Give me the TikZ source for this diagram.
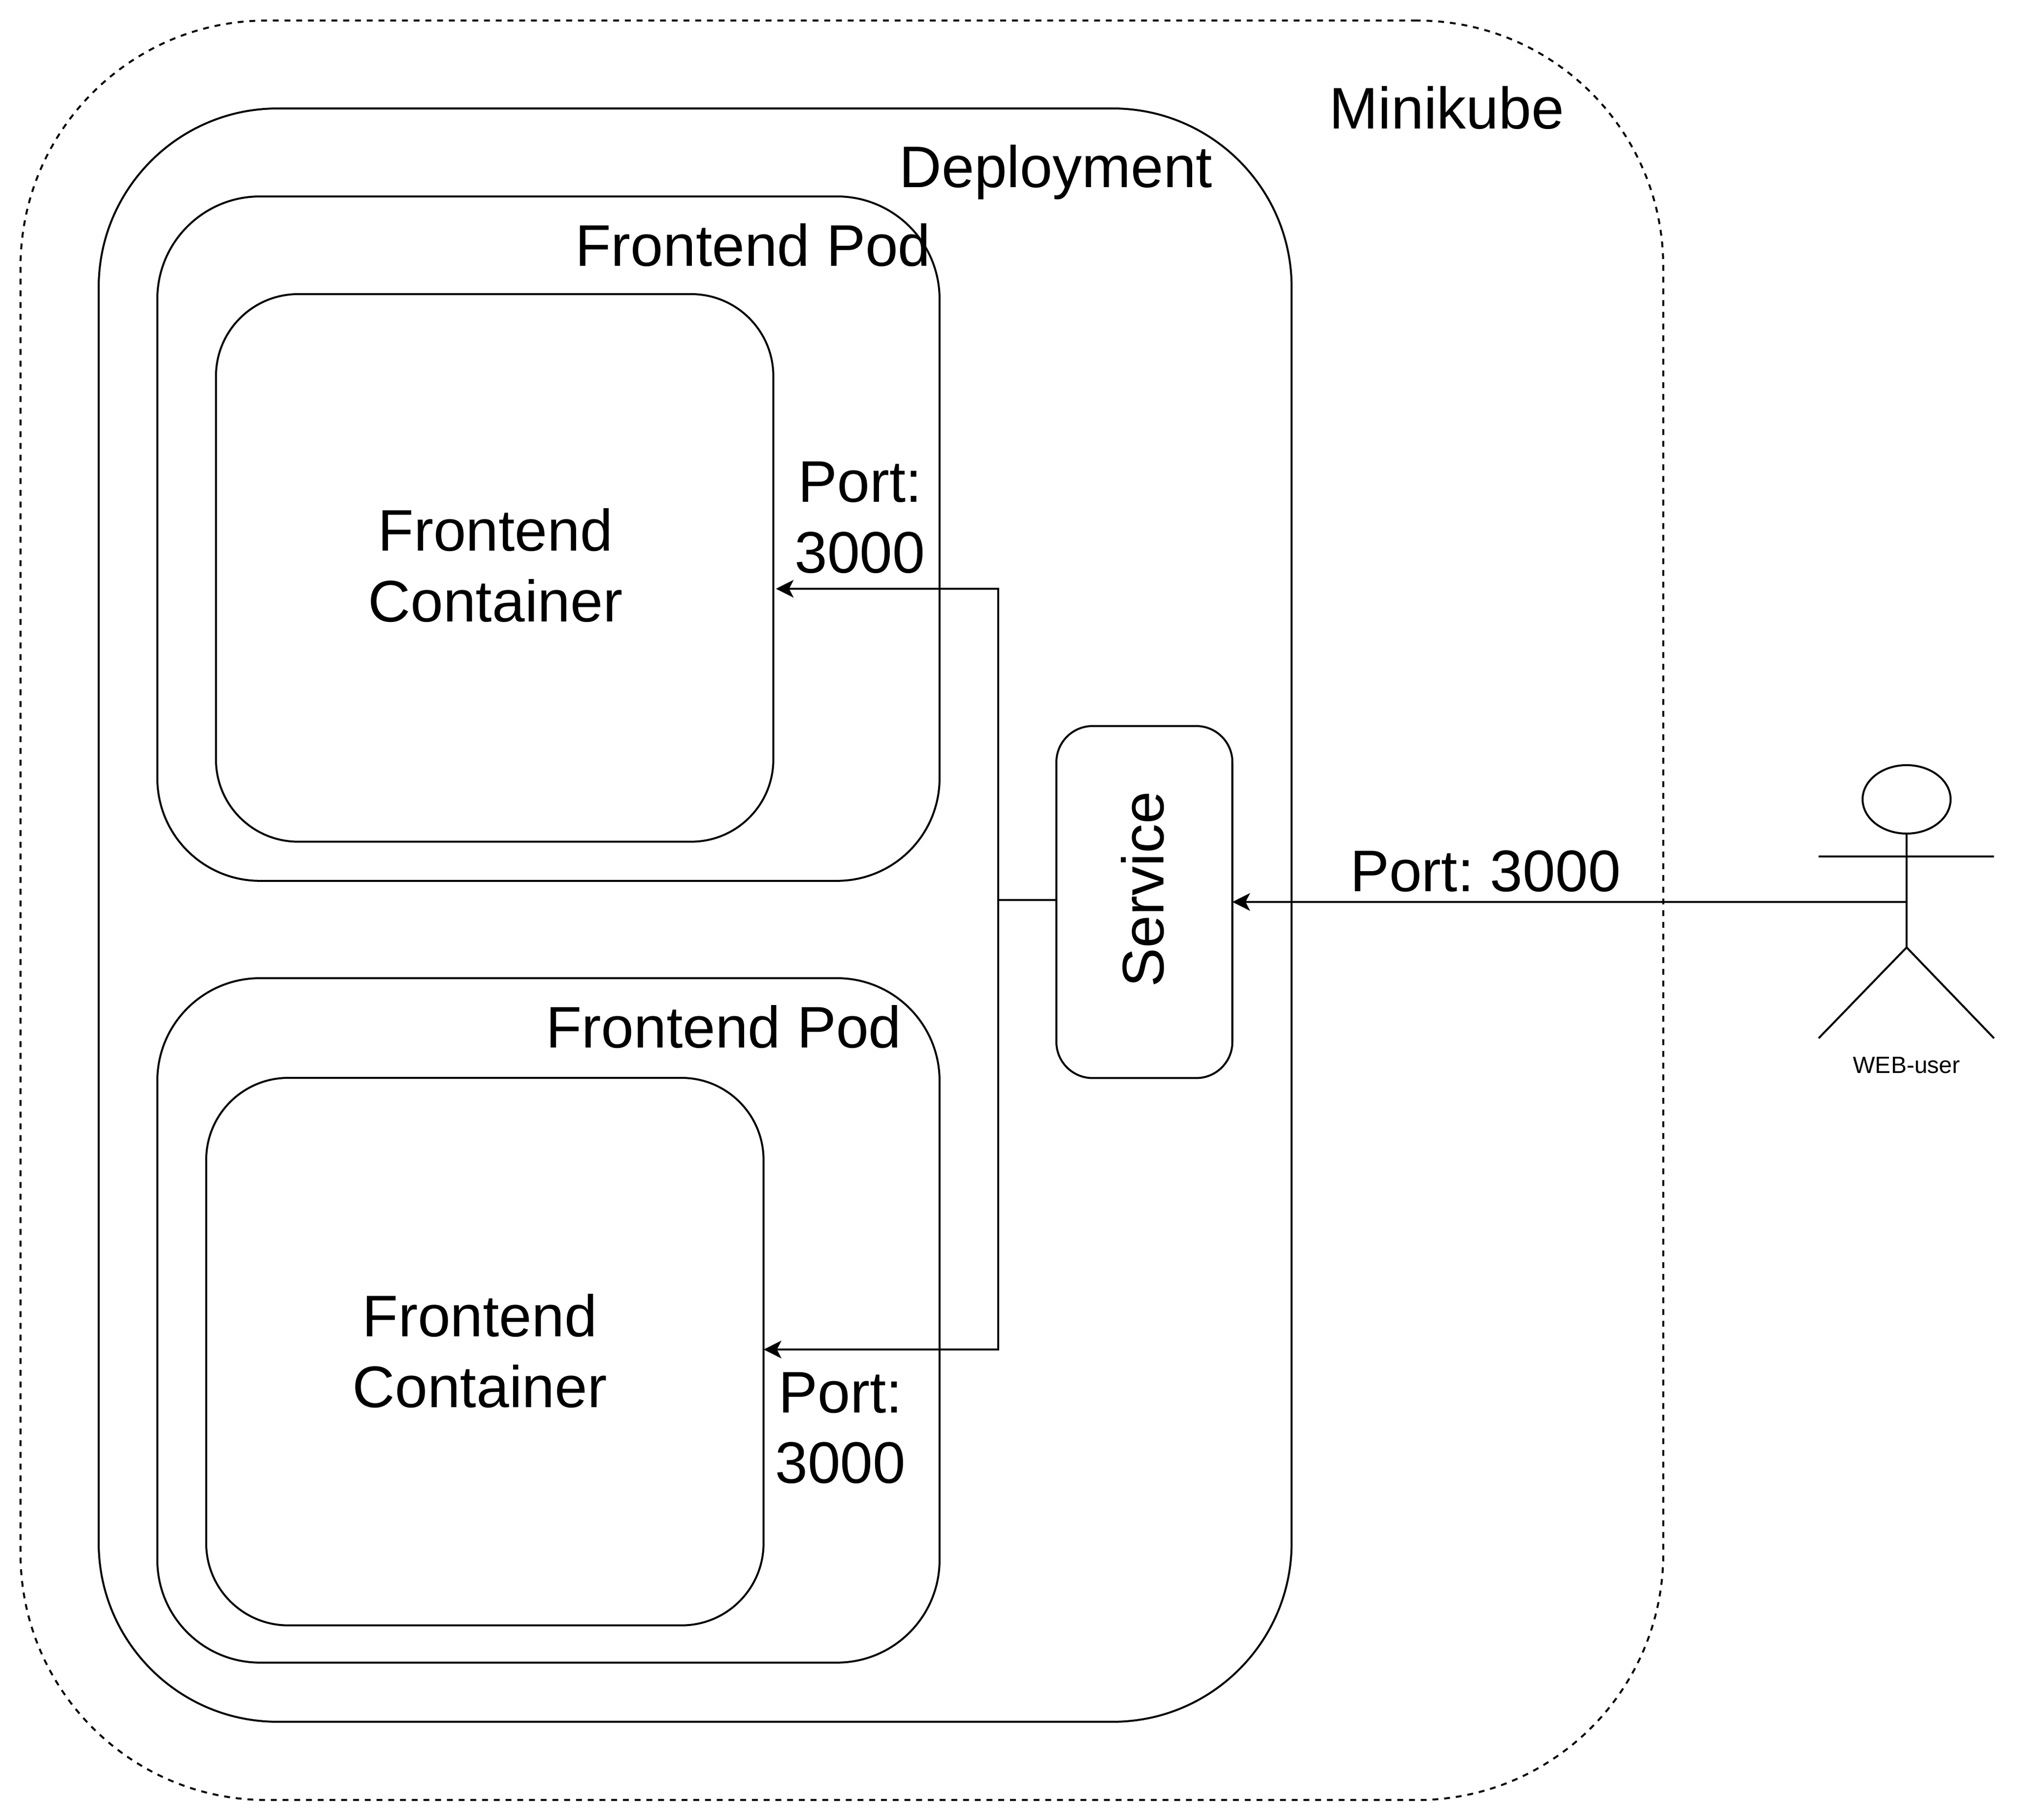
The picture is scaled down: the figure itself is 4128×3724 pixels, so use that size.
\documentclass[tikz,border=0pt]{standalone}
\usepackage{fontspec}
\setmainfont{Liberation Sans}
\usepackage{tikz}
\usetikzlibrary{arrows.meta,shapes.geometric}

\tikzset{
  box/.style={draw, rectangle, inner sep=0pt, outer sep=0pt, anchor=north west},
  big/.style={font=\fontsize{34.14}{40.97}\selectfont\frenchspacing, anchor=base, inner sep=0pt, align=center},
  flow/.style={-{Stealth[length=0.36cm, width=0.36cm, inset=0.09cm]}},
}

\begin{document}
\begin{tikzpicture}[x=0.01cm, y=-0.01cm, line width=0.04cm]
    \useasboundingbox (0,0) rectangle (4128,3724);
    %
    \node[box, dash pattern=on 0.12cm off 0.12cm, minimum width=33.6cm, minimum height=36.4cm, rounded corners=5.04cm] (minikube) at (42,42) {};
    \node[box, minimum width=24.4cm, minimum height=33cm, rounded corners=3.66cm] (deployment) at (202,222) {};
    %
    \node[box, minimum width=16cm, minimum height=14cm, rounded corners=2.1cm] (pod1) at (322,402) {};
    \node[box, minimum width=11.4cm, minimum height=11.2cm, rounded corners=1.68cm] (container1) at (442,602) {};
    %
    \node[box, minimum width=16cm, minimum height=14cm, rounded corners=2.1cm] (pod2) at (322,2002) {};
    \node[box, minimum width=11.4cm, minimum height=11.2cm, rounded corners=1.68cm] (container2) at (422,2206) {};
    %
    \node[box, minimum width=3.6cm, minimum height=7.2cm, rounded corners=0.74cm] (service) at (2162,1486) {};
    \node[big, rotate=90] (servicetext) at (2381,1820) {Service};
    %
    \node[big] (minikubetext) at (2961,264) {Minikube};
    \node[big] (deploymenttext) at (2161,383) {Deployment};
    \node[big] (podtext1) at (1541,544) {Frontend Pod};
    \node[big] (podtext2) at (1481,2144) {Frontend Pod};
    \node[big] (containertext1) at (1014,1272) {Frontend\\Container};
    \node[big] (containertext2) at (982,2880) {Frontend\\Container};
    \node[big] (porttext1) at (1760,1172) {Port:\\3000};
    \node[big] (porttext2) at (1720,3035.5) {Port:\\3000};
    \node[big] (porttext3) at (3040,1824) {Port: 3000};
    %
    % stick figure
    \node[draw, ellipse, inner sep=0pt, outer sep=0pt, minimum width=1.8cm, minimum height=1.4cm] (head) at (3902,1636) {};
    \coordinate (hip) at (3902,1939);
    \coordinate (waist) at (3902,1846);
    \draw (head.south) -- (hip);
    \draw (3722,1752.5) -- (4081,1752.5);
    \draw (3722,2125) -- (hip) -- (4081,2125);
    \node[font=\fontsize{13.66}{16}\selectfont, anchor=base, inner sep=0pt] (webuser) at (3902,2196) {WEB-user};
    %
    \coordinate (branch) at (2043,1842);
    \coordinate (entry1) at (1588,1205);
    \coordinate (entry2) at (1563,2762);
    \draw[flow] (waist) -- (service.east |- waist);
    \draw (service.west |- branch) -- (branch);
    \draw[flow] (branch) |- (entry1);
    \draw[flow] (branch) |- (entry2);
\end{tikzpicture}
\end{document}
